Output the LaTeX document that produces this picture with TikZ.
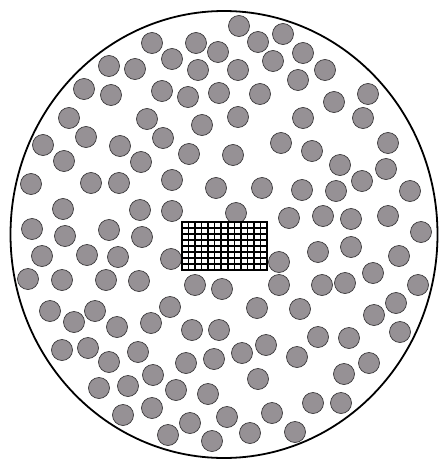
\documentclass[tikz,border=0pt]{standalone}
\definecolor{dotgray}{RGB}{150,145,149}
\definecolor{dotedge}{RGB}{60,58,60}
\tikzset{
  dot/.style={fill=dotgray,draw=dotedge,line width=0.7pt},
  rim/.style={draw=black,line width=1.8pt},
  gridline/.style={draw=black,line width=1.5pt},
  gridframe/.style={draw=black,line width=2.2pt}
}
\begin{document}
\begin{tikzpicture}[x=1pt,y=-1pt]
\useasboundingbox (0,0) rectangle (440,461);
\fill[white] (0,0) rectangle (440,461);
\draw[rim] (224,234.5) ellipse [x radius=213.5, y radius=223.5];
\foreach \px/\py in {
152/43,196/43,172/59,109/66,135/69,198/70,84/89,111/95,162/91,188/97,219/93,
69/118,147/119,202/125,43/145,86/137,120/146,163/138,189/154,64/161,141/162,
31/184,91/183,119/183,172/180,216/188,63/209,140/210,172/211,32/229,65/236,
109/230,142/237,218/52,
239/26,258/42,283/34,273/61,303/53,238/70,325/70,298/80,260/94,334/102,368/94,
238/117,303/118,363/118,281/143,312/151,388/143,233/155,340/165,386/169,
362/181,262/188,302/190,336/191,410/191,236/213,289/218,323/216,351/219,
388/216,421/232,
42/256,87/255,118/257,171/259,28/279,62/280,106/280,139/281,195/285,222/289,
50/311,170/307,95/311,74/322,117/327,151/323,192/330,219/330,62/350,88/348,
109/362,138/352,186/363,214/359,99/388,128/386,153/375,176/390,208/394,
123/415,152/408,190/423,168/435,212/441,227/417,
279/262,318/252,351/247,399/256,373/273,279/285,322/285,345/283,418/285,
257/308,300/309,374/315,396/303,400/332,318/337,349/338,242/353,266/345,
297/357,369/363,344/374,258/379,313/403,341/403,272/413,250/433,295/432}
  \draw[dot] (\px,\py) circle [radius=10.5];
\fill[white] (182,222) rectangle (267,270);
\foreach \i in {1,...,12}
  \draw[gridline] ({182+\i*85/13},222) -- ({182+\i*85/13},270);
\foreach \j in {1,...,7}
  \draw[gridline] (182,{222+\j*6}) -- (267,{222+\j*6});
\draw[gridframe] (182,222) rectangle (267,270);
\end{tikzpicture}
\end{document}
